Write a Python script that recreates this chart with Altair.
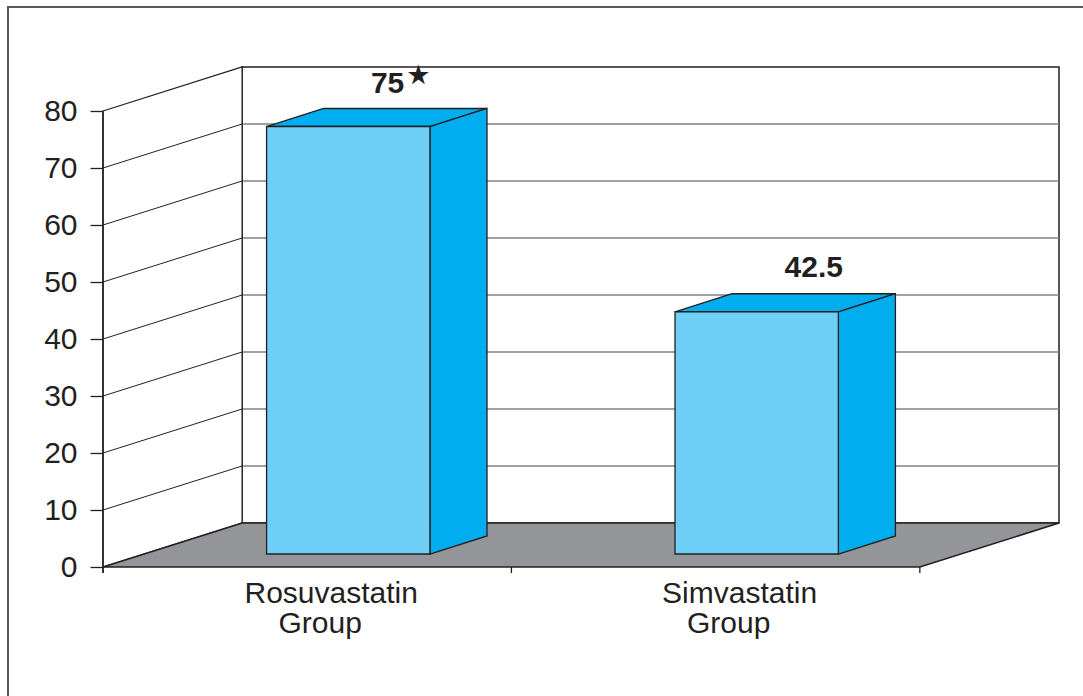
import altair as alt
import pandas as pd

# ---------------- data ----------------
cat_line1 = ["Rosuvastatin", "Simvastatin"]
cat_line2 = ["Group", "Group"]
values = [75, 42.5]
value_labels = ["75", "42.5"]
sig_marks = ["★", ""]
y_ticks = [0, 10, 20, 30, 40, 50, 60, 70, 80]

# ---------------- 3D geometry (style) ----------------
DX = 0.3407      # depth shift, in category units
DY = 7.72        # depth shift, in value units
T_FRONT, T_BACK = 0.295, 0.705
BAR_LO, BAR_HI = 0.3, 0.7
N = len(values)
Y_MAX = max(y_ticks)
X_MAX = N + DX
Y_TOP = Y_MAX + DY

INK = "#231f20"
FRONT = "#6dcff6"
SIDE = "#00aeef"
FLOOR = "#939598"
GRID = "#808285"
FONT = "Liberation Sans"

xs = alt.Scale(domain=[0, X_MAX], nice=False, zero=False)
ys = alt.Scale(domain=[0, Y_TOP], nice=False, zero=False)
yaxis = alt.Axis(values=y_ticks, domain=False, grid=False, tickSize=13,
                 tickColor=INK, tickWidth=1.3, labelFont=FONT, labelFontSize=30,
                 labelColor=INK, labelPadding=13, labelFlush=False, labelOverlap=False)


def X(f):
    return alt.X(f, type="quantitative", scale=xs, axis=None, title=None)


def Y(f):
    return alt.Y(f, type="quantitative", scale=ys, axis=yaxis, title=None)


# ---------------- tables built from the arrays ----------------
back_df = pd.DataFrame([{"x": DX, "x2": X_MAX, "y": DY, "y2": Y_TOP}])
grid_df = pd.DataFrame([{"x": DX, "x2": X_MAX, "y": v + DY} for v in y_ticks[1:-1]])
lwall_df = pd.DataFrame([{"x": 0, "y": Y_MAX, "y2": 0}, {"x": DX, "y": Y_TOP, "y2": DY}])
diag_df = pd.DataFrame([{"x": 0, "x2": DX, "y": v, "y2": v + DY} for v in y_ticks[1:-1]])
floor_df = pd.DataFrame([{"y": 0, "x": 0, "x2": N}, {"y": DY, "x": DX, "x2": X_MAX}])
axis_df = pd.DataFrame([{"x": 0, "y": 0, "y2": Y_MAX}])
xtick_df = pd.DataFrame([{"x": i, "y": 0} for i in range(N + 1)])

front_rows, side_rows, top_rows, lab_rows = [], [], [], []
ddx, ddy = DX * (T_BACK - T_FRONT), DY * (T_BACK - T_FRONT)
for i, v in enumerate(values):
    x0 = i + BAR_LO + DX * T_FRONT
    x1 = i + BAR_HI + DX * T_FRONT
    yb = DY * T_FRONT
    yt = v + DY * T_FRONT
    front_rows.append({"bar": i, "x": x0, "x2": x1, "y": yb, "y2": yt})
    side_rows += [{"bar": i, "x": x1, "y": yt, "y2": yb},
                  {"bar": i, "x": x1 + ddx, "y": yt + ddy, "y2": yb + ddy}]
    top_rows += [{"bar": i, "y": yt, "x": x0, "x2": x1},
                 {"bar": i, "y": yt + ddy, "x": x0 + ddx, "x2": x1 + ddx}]
    lab_rows.append({"x": i + 0.5 + DX * T_BACK, "y": v + DY * T_BACK,
                     "label": value_labels[i], "star": sig_marks[i],
                     "has_star": sig_marks[i] != "",
                     "cx": i + 0.5, "c0": 0, "l1": cat_line1[i], "l2": cat_line2[i]})

front_df = pd.DataFrame(front_rows)
side_df = pd.DataFrame(side_rows)
top_df = pd.DataFrame(top_rows)
lab_df = pd.DataFrame(lab_rows)

# ---------------- layers ----------------
frame = alt.Chart(pd.DataFrame([{"a": 1}])).mark_rect(
    fill="white", fillOpacity=0, stroke="#58595b", strokeWidth=2
).encode(x=alt.value(-95), x2=alt.value(1010), y=alt.value(-60), y2=alt.value(700))

back = alt.Chart(back_df).mark_rect(fill="white", stroke=INK, strokeWidth=1.5).encode(
    x=X("x"), x2="x2", y=Y("y"), y2="y2")

grid = alt.Chart(grid_df).mark_rule(color=GRID, strokeWidth=1.3).encode(
    x=X("x"), x2="x2", y=Y("y"))

lwall = alt.Chart(lwall_df).mark_area(fill="white", stroke=INK, strokeWidth=1.3,
                                      orient="vertical").encode(
    x=X("x"), y=Y("y"), y2="y2")

diag = alt.Chart(diag_df).mark_rule(color=INK, strokeWidth=1).encode(
    x=X("x"), x2="x2", y=Y("y"), y2="y2")

floor = alt.Chart(floor_df).mark_area(fill=FLOOR, stroke=INK, strokeWidth=1.5,
                                      orient="horizontal").encode(
    y=Y("y"), x=X("x"), x2="x2")

axis_line = alt.Chart(axis_df).mark_rule(color=INK, strokeWidth=1.5, yOffset=6).encode(
    x=X("x"), y=Y("y"), y2="y2")

xticks = alt.Chart(xtick_df).mark_rule(color=INK, strokeWidth=1.3, y2Offset=6).encode(
    x=X("x"), y=Y("y"), y2="y")

top = alt.Chart(top_df).mark_area(fill=SIDE, stroke=INK, strokeWidth=1.3,
                                  orient="horizontal").encode(
    y=Y("y"), x=X("x"), x2="x2", detail="bar:N")

side = alt.Chart(side_df).mark_area(fill=SIDE, stroke=INK, strokeWidth=1.3,
                                    orient="vertical").encode(
    x=X("x"), y=Y("y"), y2="y2", detail="bar:N")

front = alt.Chart(front_df).mark_rect(fill=FRONT, stroke=INK, strokeWidth=1.3).encode(
    x=X("x"), x2="x2", y=Y("y"), y2="y2")

lab_plain = alt.Chart(lab_df).transform_filter("!datum.has_star").mark_text(
    font=FONT, fontSize=30, fontWeight="bold", color=INK, align="center",
    baseline="alphabetic", dy=-17).encode(x=X("x"), y=Y("y"), text="label:N")

lab_star_num = alt.Chart(lab_df).transform_filter("datum.has_star").mark_text(
    font=FONT, fontSize=30, fontWeight="bold", color=INK, align="right",
    baseline="alphabetic", dy=-15, dx=-1).encode(x=X("x"), y=Y("y"), text="label:N")

lab_star = alt.Chart(lab_df).transform_filter("datum.has_star").mark_text(
    font="DejaVu Sans", fontSize=27, color=INK, align="left",
    baseline="alphabetic", dy=-24, dx=1).encode(x=X("x"), y=Y("y"), text="star:N")

cat1 = alt.Chart(lab_df).mark_text(font=FONT, fontSize=30, color=INK, align="center",
                                   baseline="alphabetic", dy=36, dx=24).encode(
    x=X("cx"), y=Y("c0"), text="l1:N")

cat2 = alt.Chart(lab_df).mark_text(font=FONT, fontSize=30, color=INK, align="center",
                                   baseline="alphabetic", dy=66, dx=13).encode(
    x=X("cx"), y=Y("c0"), text="l2:N")

chart = alt.layer(
    frame, back, grid, lwall, diag, floor, axis_line, xticks,
    top, side, front, lab_plain, lab_star_num, lab_star, cat1, cat2
).properties(
    width=956, height=500,
    padding={"left": 103, "top": 67, "right": 24, "bottom": 129},
    autosize=alt.AutoSizeParams(type="none"),
    background="white",
).configure_view(stroke=None)

chart.save("out.html", embed_options={"renderer": "svg", "actions": False})
